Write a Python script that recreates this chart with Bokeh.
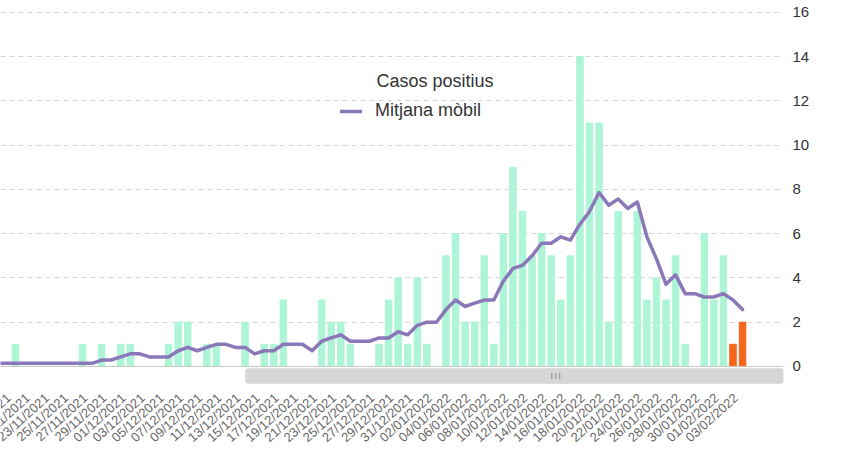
import math
from bokeh.plotting import figure
from bokeh.models import (Range1d, FixedTicker, Span, BoxAnnotation, Label,
                          Legend, LegendItem, ColumnDataSource)
from bokeh.core.properties import value
from bokeh.embed import file_html
from bokeh.resources import INLINE

# ---------------- data ----------------
all_dates = [
    "18/11/2021", "19/11/2021", "20/11/2021", "21/11/2021", "22/11/2021", "23/11/2021",
    "24/11/2021", "25/11/2021", "26/11/2021", "27/11/2021", "28/11/2021", "29/11/2021",
    "30/11/2021", "01/12/2021", "02/12/2021", "03/12/2021", "04/12/2021", "05/12/2021",
    "06/12/2021", "07/12/2021", "08/12/2021", "09/12/2021", "10/12/2021", "11/12/2021",
    "12/12/2021", "13/12/2021", "14/12/2021", "15/12/2021", "16/12/2021", "17/12/2021",
    "18/12/2021", "19/12/2021", "20/12/2021", "21/12/2021", "22/12/2021", "23/12/2021",
    "24/12/2021", "25/12/2021", "26/12/2021", "27/12/2021", "28/12/2021", "29/12/2021",
    "30/12/2021", "31/12/2021", "01/01/2022", "02/01/2022", "03/01/2022", "04/01/2022",
    "05/01/2022", "06/01/2022", "07/01/2022", "08/01/2022", "09/01/2022", "10/01/2022",
    "11/01/2022", "12/01/2022", "13/01/2022", "14/01/2022", "15/01/2022", "16/01/2022",
    "17/01/2022", "18/01/2022", "19/01/2022", "20/01/2022", "21/01/2022", "22/01/2022",
    "23/01/2022", "24/01/2022", "25/01/2022", "26/01/2022", "27/01/2022", "28/01/2022",
    "29/01/2022", "30/01/2022", "31/01/2022", "01/02/2022", "02/02/2022", "03/02/2022",
    "04/02/2022",
]

# daily positive cases, from 20/11/2021 to 04/02/2022
case_dates = all_dates[2:]
cases = [
    1, 0, 0, 0, 0, 0, 0, 1, 0, 1, 0, 1, 1, 0, 0, 0, 1, 2, 2, 0,
    1, 1, 0, 0, 2, 0, 1, 1, 3, 0, 0, 0, 3, 2, 2, 1, 0, 0, 1, 3,
    4, 1, 4, 1, 0, 5, 6, 2, 2, 5, 1, 6, 9, 7, 5, 6, 5, 3, 5, 14,
    11, 11, 2, 7, 0, 7, 3, 4, 3, 5, 1, 0, 6, 3, 5, 1, 2,
]
# last two days are provisional (orange)
provisional = ["03/02/2022", "04/02/2022"]

# moving average (Mitjana mòbil), from 18/11/2021 to 04/02/2022
moving_avg = [
    0.14, 0.14,
    0.14, 0.14, 0.14, 0.14, 0.14, 0.14, 0.14, 0.14, 0.14, 0.29,
    0.29, 0.43, 0.57, 0.57, 0.43, 0.43, 0.43, 0.71, 0.86, 0.71,
    0.86, 1.00, 1.00, 0.86, 0.86, 0.57, 0.71, 0.71, 1.00, 1.00,
    1.00, 0.71, 1.14, 1.29, 1.43, 1.14, 1.14, 1.14, 1.29, 1.29,
    1.57, 1.43, 1.86, 2.00, 2.00, 2.57, 3.00, 2.71, 2.86, 3.00,
    3.00, 3.86, 4.43, 4.57, 5.00, 5.57, 5.57, 5.86, 5.71, 6.43,
    7.00, 7.86, 7.29, 7.57, 7.14, 7.43, 5.86, 4.86, 3.71, 4.14,
    3.29, 3.29, 3.14, 3.14, 3.29, 3.00, 2.57,
]

tick_labels = all_dates[1::2]   # every second day: 19/11/2021 ... 03/02/2022
y_ticks = [0, 2, 4, 6, 8, 10, 12, 14, 16]

# ---------------- styling ----------------
BAR_COLOR = "#adf5d6"
PROV_COLOR = "#f4661b"
LINE_COLOR = "#8a78b8"
GRID_COLOR = "#d6d6d6"
FONT = "Liberation Sans"

pos = {d: k for k, d in enumerate(all_dates)}

bar_src = ColumnDataSource(dict(
    x=[pos[d] for d in case_dates],
    top=cases,
    color=[PROV_COLOR if d in provisional else BAR_COLOR for d in case_dates],
))
line_src = ColumnDataSource(dict(x=[pos[d] for d in all_dates], y=moving_avg))

FRAME_W, FRAME_H = 783, 475
x_start, x_end = 0.43, 82.28
y_end = 16.54
px_per_unit = 22.125
y_start = y_end - FRAME_H / px_per_unit

p = figure(frame_width=FRAME_W, frame_height=FRAME_H,
           x_range=Range1d(x_start, x_end), y_range=Range1d(y_start, y_end),
           output_backend="svg", toolbar_location=None,
           x_axis_location=None, y_axis_location="right",
           min_border_left=0, min_border_top=0, min_border_right=61, min_border_bottom=0)
p.outline_line_color = None
p.background_fill_color = "white"
p.border_fill_color = "white"

# grid
p.xgrid.grid_line_color = None
p.ygrid.ticker = FixedTicker(ticks=y_ticks)
p.ygrid.grid_line_color = GRID_COLOR
p.ygrid.grid_line_dash = "5 4"

# y axis (right)
p.yaxis.ticker = FixedTicker(ticks=y_ticks)
p.yaxis.axis_line_color = None
p.yaxis.major_tick_line_color = None
p.yaxis.minor_tick_line_color = None
p.yaxis.major_label_standoff = 3
p.yaxis.major_label_text_font = FONT
p.yaxis.major_label_text_font_size = "15px"
p.yaxis.major_label_text_color = "#333333"

# baseline
p.add_layout(Span(location=0, dimension="width", line_color="#c8c8c8", line_width=1))

# bars and moving average
p.vbar(x="x", top="top", width=0.68, color="color", source=bar_src)
line_r = p.line(x="x", y="y", source=line_src, line_color=LINE_COLOR, line_width=3.5,
                line_join="round", line_cap="round")

# scrollbar (decoration)
span_x = x_end - x_start
thumb = BoxAnnotation(left=x_start + 0.313 * span_x, right=x_end,
                      bottom=-0.77, top=-0.09,
                      fill_color="#d6d6d6", fill_alpha=1.0,
                      line_color="#c0c0c0", line_width=1, border_radius=3)
p.add_layout(thumb)
for frac in (0.7035, 0.7085, 0.7135):
    p.add_layout(BoxAnnotation(left=x_start + frac * span_x,
                               right=x_start + (frac + 0.0013) * span_x,
                               bottom=-0.58, top=-0.28,
                               fill_color="#8c8c8c", fill_alpha=1.0, line_color=None))

# rotated date labels under the scrollbar (every second day)
label_y = -1.33
lab_src = ColumnDataSource(dict(
    x=[pos[d] + 0.3 for d in tick_labels],
    y=[label_y] * len(tick_labels),
    text=tick_labels,
))
p.text(x="x", y="y", text="text", source=lab_src, angle=math.radians(42),
       text_align="right", text_baseline="middle",
       text_font=value(FONT), text_font_size="13px", text_color="#666666")

# legend
legend = Legend(items=[LegendItem(label="Mitjana mòbil", renderers=[line_r])],
                location=(340, FRAME_H - 121), orientation="vertical",
                border_line_color=None, background_fill_alpha=0.0,
                padding=0, margin=0, spacing=0,
                glyph_width=22, glyph_height=20, label_standoff=13,
                label_text_font=FONT, label_text_font_size="18px",
                label_text_color="#333333")
p.add_layout(legend)
p.add_layout(Label(x=376, y=FRAME_H - 80, x_units="screen", y_units="screen",
                   text="Casos positius", text_baseline="middle",
                   text_font=FONT, text_font_size="18px", text_color="#333333"))

open("out.html", "w").write(file_html(p, INLINE))
